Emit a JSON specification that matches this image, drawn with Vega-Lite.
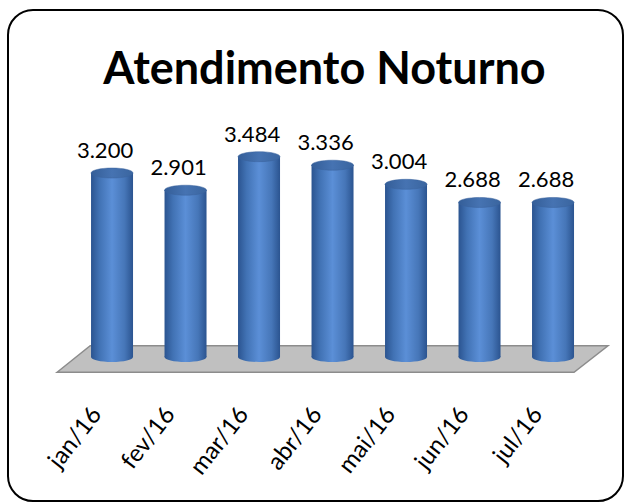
{
  "$schema": "https://vega.github.io/schema/vega-lite/v6.json",
  "width": 615,
  "height": 491,
  "autosize": {"type": "none"},
  "padding": {"left": 8, "top": 10, "right": 2, "bottom": 1},
  "background": "white",
  "config": {
    "view": {"stroke": "black", "strokeWidth": 2, "cornerRadius": 25},
    "locale": {"number": {"decimal": ",", "thousands": ".", "grouping": [3], "currency": ["R$", ""]}}
  },
  "title": {
    "text": "Atendimento Noturno",
    "font": "Lato",
    "fontSize": 45,
    "fontWeight": "bold",
    "color": "black",
    "anchor": "middle",
    "frame": "group",
    "baseline": "alphabetic",
    "offset": -119,
    "dx": 9
  },
  "data": {
    "values": [
      {"mes": "jan/16", "valor": 3200},
      {"mes": "fev/16", "valor": 2901},
      {"mes": "mar/16", "valor": 3484},
      {"mes": "abr/16", "valor": 3336},
      {"mes": "mai/16", "valor": 3004},
      {"mes": "jun/16", "valor": 2688},
      {"mes": "jul/16", "valor": 2688}
    ]
  },
  "encoding": {
    "x": {
      "field": "mes",
      "type": "nominal",
      "sort": ["jan/16", "fev/16", "mar/16", "abr/16", "mai/16", "jun/16", "jul/16"],
      "scale": {"paddingInner": 0.4286, "paddingOuter": 0.898, "align": 0.629},
      "axis": {
        "title": null,
        "domain": false,
        "ticks": false,
        "grid": false,
        "labelAngle": -52,
        "labelAlign": "right",
        "labelBaseline": "middle",
        "labelFont": "Lato",
        "labelFontSize": 24,
        "labelColor": "black",
        "labelOffset": -15,
        "labelPadding": 10,
        "offset": -101
      }
    }
  },
  "layer": [
    {
      "data": {"values": [{}]},
      "mark": {
        "type": "point",
        "shape": "M-0.998,0.048L-0.878,-0.048L0.998,-0.048L0.875,0.048Z",
        "size": 304704,
        "filled": true,
        "fill": "#c0c0c0",
        "stroke": "#8c8c8c",
        "strokeWidth": 1.5,
        "opacity": 1
      },
      "encoding": {
        "x": {"datum": "abr/16"},
        "y": {"datum": -35, "type": "quantitative", "scale": {"domain": [-2504, 6035], "nice": false, "zero": false}, "axis": null}
      }
    },
    {
      "mark": {
        "type": "point",
        "shape": "M-1,0A1,0.238,0,1,1,1,0A1,0.238,0,1,1,-1,0Z",
        "size": 1764,
        "filled": true,
        "opacity": 1,
        "strokeWidth": 0,
        "fill": {"gradient": "linear", "x1": 0, "x2": 1, "y1": 0, "y2": 0,
          "stops": [
            {"offset": 0, "color": "#2b5490"},
            {"offset": 0.2, "color": "#4172b4"},
            {"offset": 0.5, "color": "#5b8fd7"},
            {"offset": 0.8, "color": "#4676b8"},
            {"offset": 1, "color": "#2b5490"}
          ]}
      },
      "encoding": {
        "y": {"datum": 0, "type": "quantitative"}
      }
    },
    {
      "mark": {
        "type": "bar",
        "fill": {"gradient": "linear", "x1": 0, "x2": 1, "y1": 0, "y2": 0,
          "stops": [
            {"offset": 0, "color": "#2b5490"},
            {"offset": 0.2, "color": "#4172b4"},
            {"offset": 0.5, "color": "#5b8fd7"},
            {"offset": 0.8, "color": "#4676b8"},
            {"offset": 1, "color": "#2b5490"}
          ]}
      },
      "encoding": {
        "y": {"field": "valor", "type": "quantitative"},
        "y2": {"datum": 0}
      }
    },
    {
      "mark": {
        "type": "point",
        "shape": "M-1,0A1,0.238,0,1,1,1,0A1,0.238,0,1,1,-1,0Z",
        "size": 1764,
        "filled": true,
        "opacity": 1,
        "stroke": "#3a639c",
        "strokeWidth": 0.5,
        "fill": {"gradient": "linear", "x1": 0, "x2": 1, "y1": 0, "y2": 0,
          "stops": [
            {"offset": 0, "color": "#345e98"},
            {"offset": 0.5, "color": "#4673b2"},
            {"offset": 1, "color": "#3a659f"}
          ]}
      },
      "encoding": {
        "y": {"field": "valor", "type": "quantitative"}
      }
    },
    {
      "mark": {
        "type": "text",
        "font": "Lato",
        "fontSize": 22,
        "color": "black",
        "baseline": "alphabetic",
        "align": "center",
        "dx": -7,
        "dy": -15
      },
      "encoding": {
        "y": {"field": "valor", "type": "quantitative"},
        "text": {"field": "valor", "type": "quantitative", "format": ",.0f"}
      }
    }
  ]
}
